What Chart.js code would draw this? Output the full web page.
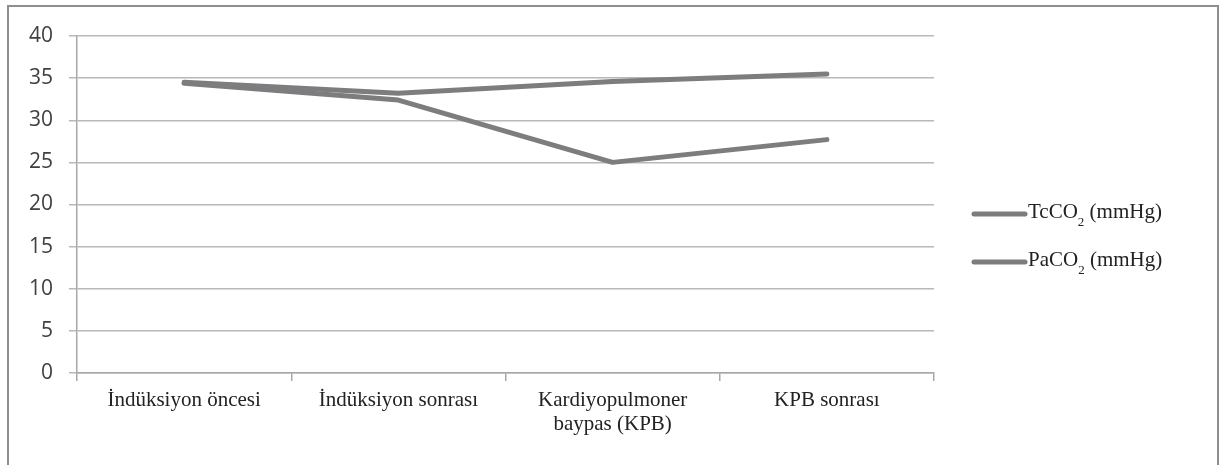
<!DOCTYPE html>
<html>
<head>
<meta charset="utf-8">
<script src="https://cdn.jsdelivr.net/npm/chart.js@4/dist/chart.umd.min.js"></script>
<style>
  html, body { margin: 0; padding: 0; background: #fff; overflow: hidden; width: 1224px; height: 465px; }
  #c { position: absolute; left: 0; top: 0; }
  #frame { position: absolute; left: 7px; top: 5px; width: 1208px; height: 520px; border: 2px solid #8e8e8e; border-bottom: none; pointer-events: none; }
</style>
</head>
<body>
<canvas id="c" width="1224" height="465"></canvas>
<div id="frame"></div>
<script>
const categories = ['İndüksiyon öncesi', 'İndüksiyon sonrası', ['Kardiyopulmoner', 'baypas (KPB)'], 'KPB sonrası'];
const tcco2 = [34.5, 33.2, 34.6, 35.5];
const paco2 = [34.4, 32.4, 25.0, 27.7];
const yTicks = { min: 0, max: 40, step: 5 };
const legendItems = [
  { base: 'TcCO', sub: '2', tail: ' (mmHg)' },
  { base: 'PaCO', sub: '2', tail: ' (mmHg)' }
];

const lineColor = '#7d7d7f';

const legendPlugin = {
  id: 'subLegend',
  afterDraw(chart) {
    const ctx = chart.ctx;
    ctx.save();
    const ys = [214, 262];
    legendItems.forEach((it, i) => {
      const y = ys[i];
      ctx.strokeStyle = lineColor;
      ctx.lineWidth = 5;
      ctx.lineCap = 'round';
      ctx.beginPath();
      ctx.moveTo(974, y);
      ctx.lineTo(1025, y);
      ctx.stroke();
      ctx.fillStyle = '#222';
      ctx.textBaseline = 'alphabetic';
      ctx.textAlign = 'left';
      let x = 1028;
      const baseY = y + 3.5;
      ctx.font = '21px "Liberation Serif", "Times New Roman", serif';
      ctx.fillText(it.base, x, baseY);
      x += ctx.measureText(it.base).width;
      ctx.font = '13px "Liberation Serif", "Times New Roman", serif';
      ctx.fillText(it.sub, x, baseY + 8);
      x += ctx.measureText(it.sub).width;
      ctx.font = '21px "Liberation Serif", "Times New Roman", serif';
      ctx.fillText(it.tail, x, baseY);
    });
    ctx.restore();
  }
};

new Chart(document.getElementById('c'), {
  type: 'line',
  data: {
    labels: categories,
    datasets: [
      { label: 'TcCO2 (mmHg)', data: tcco2, borderColor: lineColor, backgroundColor: lineColor, borderWidth: 5, pointRadius: 0, tension: 0, borderCapStyle: 'round', borderJoinStyle: 'round' },
      { label: 'PaCO2 (mmHg)', data: paco2, borderColor: lineColor, backgroundColor: lineColor, borderWidth: 5, pointRadius: 0, tension: 0, borderCapStyle: 'round', borderJoinStyle: 'round' }
    ]
  },
  options: {
    responsive: false,
    animation: false,
    devicePixelRatio: 1,
    layout: { padding: { left: 0, right: 290, top: 36, bottom: 0 } },
    plugins: { legend: { display: false }, tooltip: { enabled: false } },
    scales: {
      y: {
        min: yTicks.min, max: yTicks.max,
        ticks: { stepSize: yTicks.step, color: '#404040', padding: 16, font: { family: '"Open Sans", sans-serif', size: 21 } },
        grid: { color: '#b8b8bc', lineWidth: 1.5, tickLength: 8 },
        border: { color: '#a8a8ac', width: 1.5 },
        afterFit(s) { s.width = 77; }
      },
      x: {
        offset: true,
        ticks: { color: '#222', padding: 7, maxRotation: 0, autoSkip: false, font: { family: '"Liberation Serif", "Times New Roman", serif', size: 21, lineHeight: 1.15 } },
        grid: { offset: true, drawOnChartArea: false, color: '#a8a8ac', lineWidth: 1.5, tickLength: 8 },
        border: { color: '#a8a8ac', width: 1.5 },
        afterFit(s) { s.height = 92; }
      }
    }
  },
  plugins: [legendPlugin]
});
</script>
</body>
</html>
